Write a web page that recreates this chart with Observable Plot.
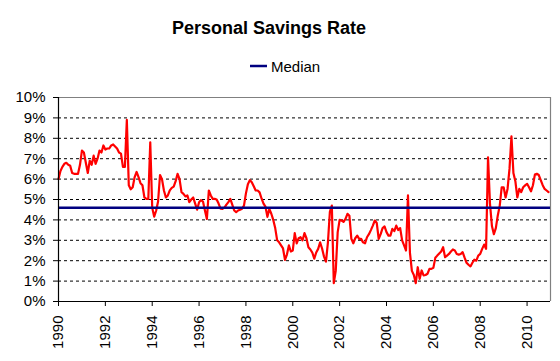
<!DOCTYPE html>
<html><head><meta charset="utf-8">
<script src="https://cdn.jsdelivr.net/npm/d3@7"></script>
<script src="https://cdn.jsdelivr.net/npm/@observablehq/plot@0.6"></script>
<style>
body{margin:0;background:#fff;}
#wrap{position:relative;width:560px;height:361px;font-family:"Liberation Sans",Arial,sans-serif;color:#000;}
#title{position:absolute;left:0;width:538px;top:19px;text-align:center;font-weight:bold;font-size:18px;line-height:18px;z-index:2;}
#legend{position:absolute;left:250px;top:59px;height:15px;font-size:15px;line-height:15px;z-index:2;white-space:nowrap;}
#legend svg{vertical-align:top;}
#chart{position:absolute;left:0;top:0;}
</style></head>
<body>
<div id="wrap">
  <div id="title">Personal Savings Rate</div>
  <div id="legend"><svg width="21" height="15"><line x1="0" x2="17" y1="7" y2="7" stroke="#000080" stroke-width="2.5"/></svg>Median</div>
  <div id="chart"></div>
</div>
<script>
// Monthly personal savings rate (%), Jan..Dec of each year
const r1990 = [6.0, 6.4, 6.6, 6.75, 6.8, 6.7, 6.65, 6.3, 6.26, 6.26, 6.26, 6.7];
const r1991 = [7.4, 7.3, 6.8, 6.3, 6.9, 6.7, 7.15, 6.75, 7.0, 7.4, 7.3, 7.65];
const r1992 = [7.45, 7.5, 7.5, 7.65, 7.7, 7.6, 7.5, 7.3, 7.25, 6.6, 6.6, 8.9];
const r1993 = [5.7, 5.5, 5.6, 6.1, 6.35, 6.1, 5.8, 5.7, 5.1, 5.03, 5.03, 7.8];
const r1994 = [4.6, 4.16, 4.45, 4.9, 6.2, 6.0, 5.44, 5.1, 5.2, 5.45, 5.57, 5.63];
const r1995 = [5.9, 6.26, 6.0, 5.36, 5.28, 5.15, 5.2, 4.87, 5.0, 5.1, 4.8, 4.5];
const r1996 = [4.87, 4.97, 4.9, 4.46, 4.05, 5.44, 5.2, 5.03, 5.03, 5.0, 4.8, 4.55];
const r1997 = [4.54, 4.6, 4.75, 4.87, 5.03, 4.75, 4.46, 4.38, 4.46, 4.5, 4.55, 4.7];
const r1998 = [5.3, 5.75, 5.95, 5.85, 5.65, 5.44, 5.44, 5.35, 5.05, 4.8, 4.65, 4.15];
const r1999 = [4.54, 4.3, 4.0, 3.6, 3.0, 2.9, 2.75, 2.6, 2.04, 2.3, 2.75, 2.45];
const r2000 = [2.5, 3.35, 2.85, 3.1, 3.15, 3.0, 3.35, 3.1, 2.66, 2.55, 2.4, 2.1];
const r2001 = [2.4, 2.58, 2.9, 2.6, 2.2, 1.95, 2.9, 4.4, 4.7, 0.9, 1.5, 3.4];
const r2002 = [4.0, 3.97, 3.9, 4.05, 4.3, 4.2, 3.07, 2.85, 3.1, 3.23, 3.07, 3.07];
const r2003 = [2.9, 2.85, 3.15, 3.3, 3.5, 3.72, 3.97, 3.85, 3.07, 3.3, 3.6, 3.68];
const r2004 = [3.4, 3.23, 3.23, 3.56, 3.45, 3.72, 3.5, 3.6, 3.0, 2.75, 2.5, 5.2];
const r2005 = [2.4, 1.5, 1.3, 0.9, 1.68, 1.11, 1.52, 1.28, 1.3, 1.36, 1.6, 1.6];
const r2006 = [1.65, 2.14, 2.25, 2.35, 2.45, 2.66, 2.17, 2.25, 2.33, 2.45, 2.55, 2.5];
const r2007 = [2.33, 2.3, 2.33, 2.42, 2.15, 1.9, 1.8, 1.72, 1.9, 2.05, 2.0, 2.25];
const r2008 = [2.33, 2.58, 2.79, 2.58, 7.07, 4.8, 3.7, 3.3, 3.6, 4.22, 4.7, 5.6];
const r2009 = [5.6, 5.1, 5.52, 6.5, 8.1, 6.3, 5.9, 5.1, 5.52, 5.36, 5.6, 5.69];
const r2010 = [5.77, 5.6, 5.4, 5.7, 6.22, 6.26, 6.2, 5.95, 5.7, 5.52, 5.44, 5.36];

const years = [1990,1991,1992,1993,1994,1995,1996,1997,1998,1999,2000,2001,2002,2003,2004,2005,2006,2007,2008,2009,2010];
const yearly = [r1990,r1991,r1992,r1993,r1994,r1995,r1996,r1997,r1998,r1999,r2000,r2001,r2002,r2003,r2004,r2005,r2006,r2007,r2008,r2009,r2010];
const medianRate = 4.6;
const xTicks = [1990,1992,1994,1996,1998,2000,2002,2004,2006,2008,2010];
const yTicks = [0,1,2,3,4,5,6,7,8,9,10];

const data = [];
years.forEach((y, i) => yearly[i].forEach((v, m) => data.push({t: y + m / 12, v})));

const chart = Plot.plot({
  width: 560, height: 361,
  marginLeft: 58, marginRight: 10, marginTop: 97, marginBottom: 60,
  style: {fontFamily: "'Liberation Sans', Arial, sans-serif", fontSize: "15px", color: "#000", background: "transparent"},
  x: {domain: [1990, 2011]},
  y: {domain: [0, 10]},
  marks: [
    Plot.gridY(yTicks.filter(d => d > 0 && d < 10), {stroke: "#000", strokeOpacity: 1, strokeWidth: 1, strokeDasharray: "3,3"}),
    Plot.ruleY([10], {stroke: "#808080", strokeWidth: 1.2}),
    Plot.ruleX([2011], {stroke: "#808080", strokeWidth: 1.2}),
    Plot.line(data, {x: "t", y: "v", stroke: "#ff0000", strokeWidth: 2.2}),
    Plot.ruleY([medianRate], {stroke: "#000080", strokeWidth: 2.5}),
    Plot.axisY({ticks: yTicks, tickFormat: d => d + "%", tickSize: 5, tickPadding: 8, fontSize: 15, label: null}),
    Plot.axisX({ticks: xTicks, tickFormat: d => String(d), tickSize: 5, tickPadding: 9, tickRotate: -90, fontSize: 15, label: null}),
    Plot.ruleX([1990], {stroke: "#000", strokeWidth: 1.2}),
    Plot.ruleY([0], {stroke: "#000", strokeWidth: 1.2})
  ]
});
document.getElementById("chart").appendChild(chart);
</script>
</body></html>
